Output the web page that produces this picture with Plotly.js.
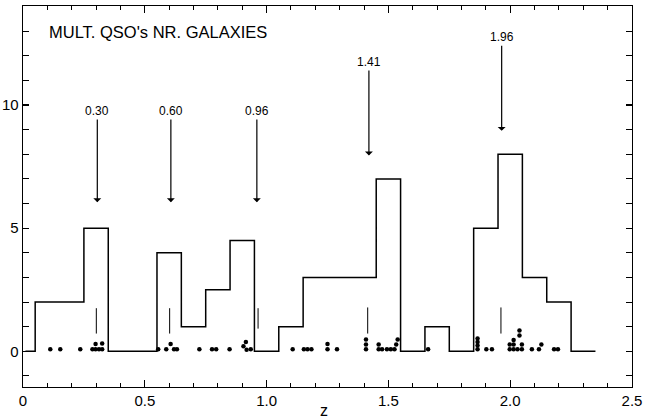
<!DOCTYPE html>
<html>
<head>
<meta charset="utf-8">
<script src="https://cdn.plot.ly/plotly-3.0.1.min.js"></script>
<style>html,body{margin:0;padding:0;background:#fff;}#chart{width:649px;height:418px;}</style>
</head>
<body>
<div id="chart"></div>
<script>
// Histogram (step) : bin edges and counts
var binEdges = [0.01, 0.05, 0.15, 0.25, 0.35, 0.45, 0.55, 0.65, 0.75, 0.85, 0.95, 1.05, 1.15, 1.25, 1.35, 1.45, 1.55, 1.65, 1.75, 1.85, 1.95, 2.05, 2.15, 2.25, 2.35];
var binCounts = [0, 2, 2, 5, 0, 0, 4, 1, 2.5, 4.5, 0, 1, 3, 3, 3, 7, 0, 1, 0, 5, 8, 3, 2, 0, 0];

// Individual QSO redshifts (dots), stacked heights
var dotZ = [0.112, 0.153, 0.235,
  0.285, 0.298, 0.298, 0.312, 0.325, 0.325,
  0.555, 0.588, 0.606, 0.62, 0.632,
  0.724, 0.776, 0.793, 0.848,
  0.905, 0.915, 0.918, 0.935,
  1.107, 1.153, 1.168, 1.184, 1.25, 1.25, 1.289,
  1.408, 1.408, 1.408,
  1.46, 1.46, 1.474, 1.494, 1.51, 1.525, 1.532, 1.538,
  1.663,
  1.866, 1.866, 1.866, 1.866, 1.902, 1.925,
  1.998, 1.998, 2.014, 2.014, 2.014, 2.03, 2.038, 2.038, 2.048, 2.048,
  2.089, 2.118, 2.128, 2.18, 2.196];
var dotY = [0.08, 0.08, 0.08,
  0.08, 0.08, 0.3, 0.08, 0.08, 0.32,
  0.08, 0.08, 0.3, 0.08, 0.08,
  0.08, 0.08, 0.08, 0.08,
  0.2, 0.38, 0.06, 0.08,
  0.08, 0.08, 0.08, 0.08, 0.08, 0.3, 0.08,
  0.08, 0.28, 0.48,
  0.08, 0.28, 0.08, 0.08, 0.08, 0.08, 0.28, 0.48,
  0.08,
  0.08, 0.24, 0.38, 0.52, 0.08, 0.08,
  0.08, 0.28, 0.08, 0.28, 0.46, 0.08, 0.64, 0.84, 0.08, 0.28,
  0.08, 0.08, 0.28, 0.08, 0.08];

// Peak markers (short vertical bars) and arrows
var peakZ = [0.301, 0.602, 0.965, 1.415, 1.962];
var peakLow = [0.72, 0.72, 0.92, 0.72, 0.72];
var peakHigh = [1.75, 1.75, 1.75, 1.78, 1.78];

var arrowLabels = ['0.30', '0.60', '0.96', '1.41', '1.96'];
var arrowZ = [0.305, 0.607, 0.96, 1.42, 1.965];
var arrowFrom = [9.76, 9.76, 9.76, 11.75, 12.75];
var arrowTo = [6.05, 6.05, 6.05, 7.95, 8.95];

var titleText = "MULT. QSO's NR. GALAXIES";

var segX = [], segY = [];
for (var i = 0; i < peakZ.length; i++) {
  segX.push(peakZ[i], peakZ[i], null);
  segY.push(peakLow[i], peakHigh[i], null);
}

var traces = [
  {x: binEdges, y: binCounts, type: 'scatter', mode: 'lines',
   line: {shape: 'hv', color: '#000', width: 1.5}, hoverinfo: 'skip'},
  {x: segX, y: segY, type: 'scatter', mode: 'lines',
   line: {color: '#000', width: 1}, hoverinfo: 'skip'},
  {x: dotZ, y: dotY, type: 'scatter', mode: 'markers',
   marker: {color: '#000', size: 4.5}, hoverinfo: 'skip'}
];

var annotations = [];
for (var j = 0; j < arrowZ.length; j++) {
  annotations.push({
    x: arrowZ[j], y: arrowTo[j], ax: arrowZ[j], ay: arrowFrom[j],
    xref: 'x', yref: 'y', axref: 'x', ayref: 'y',
    text: arrowLabels[j], showarrow: true, arrowhead: 1, arrowsize: 1.1,
    arrowwidth: 1.2, arrowcolor: '#000', standoff: 0,
    font: {family: 'Liberation Sans, Arial, sans-serif', size: 12, color: '#000'}
  });
}
annotations.push({
  x: 0.10, y: 12.97, xref: 'x', yref: 'y', xanchor: 'left', yanchor: 'middle',
  text: titleText, showarrow: false,
  font: {family: 'Liberation Sans, Arial, sans-serif', size: 16.5, color: '#000'}
});
annotations.push({
  x: 1.235, y: -0.061, xref: 'x', yref: 'paper', xanchor: 'center', yanchor: 'middle',
  text: 'z', showarrow: false,
  font: {family: 'Liberation Sans, Arial, sans-serif', size: 16, color: '#000'}
});

var layout = {
  width: 649, height: 418,
  margin: {l: 23, r: 17, t: 6, b: 31, pad: 0},
  paper_bgcolor: '#fff', plot_bgcolor: '#fff',
  showlegend: false,
  font: {family: 'Liberation Sans, Arial, sans-serif', size: 15, color: '#000'},
  xaxis: {
    range: [0, 2.5], tickvals: [0, 0.5, 1.0, 1.5, 2.0, 2.5],
    ticktext: ['0', '0.5', '1.0', '1.5', '2.0', '2.5'],
    ticks: 'inside', ticklen: 7, tickwidth: 1.2, tickcolor: '#000',
    minor: {dtick: 0.1, ticks: 'inside', ticklen: 4, tickwidth: 1, tickcolor: '#000', showgrid: false},
    showline: true, linecolor: '#000', linewidth: 1.4, mirror: 'ticks',
    showgrid: false, zeroline: false, fixedrange: true,
    tickfont: {size: 15, color: '#000'}
  },
  yaxis: {
    range: [-1.45, 14.02], tickvals: [0, 5, 10], ticktext: ['0', '5', '10'],
    ticks: 'inside', ticklen: 6, tickwidth: 1.2, tickcolor: '#000',
    minor: {dtick: 1, ticks: 'inside', ticklen: 6, tickwidth: 1, tickcolor: '#000', showgrid: false},
    showline: true, linecolor: '#000', linewidth: 1.4, mirror: 'ticks',
    showgrid: false, zeroline: false, fixedrange: true,
    tickfont: {size: 15, color: '#000'}
  },
  annotations: annotations
};

Plotly.newPlot('chart', traces, layout, {staticPlot: true, displayModeBar: false});
</script>
</body>
</html>
